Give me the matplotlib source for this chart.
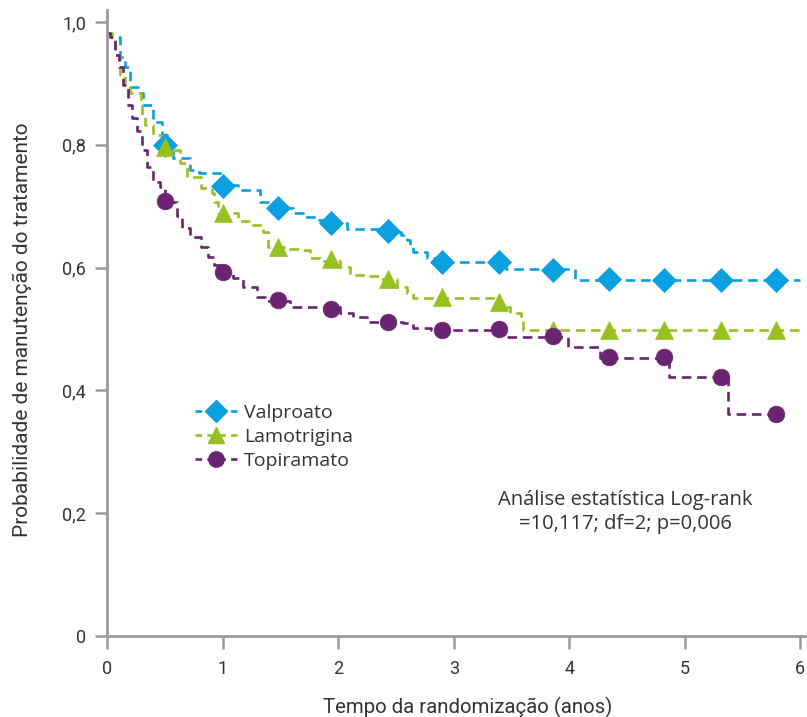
import matplotlib
matplotlib.use("Agg")
import matplotlib.pyplot as plt
from matplotlib.lines import Line2D
from matplotlib.ticker import FuncFormatter

# ---------------- data ----------------
valp_t = [0, 0.035, 0.11, 0.16, 0.20, 0.27, 0.31, 0.40, 0.48, 0.52, 0.57, 0.72, 0.80, 0.98,
          1.13, 1.32, 1.48, 1.61, 1.70, 1.82, 1.93, 2.08, 2.42, 2.54, 2.60, 2.62, 2.65, 2.77,
          2.91, 3.45, 4.05, 6.0]
valp_s = [0.982, 0.976, 0.943, 0.927, 0.894, 0.884, 0.865, 0.837, 0.816, 0.796, 0.778, 0.759, 0.754, 0.735,
          0.726, 0.707, 0.697, 0.689, 0.682, 0.678, 0.673, 0.663, 0.658, 0.653, 0.645, 0.637, 0.625, 0.616,
          0.609, 0.598, 0.580, 0.580]

lamo_t = [0, 0.04, 0.07, 0.11, 0.16, 0.20, 0.29, 0.30, 0.33, 0.40, 0.48, 0.55, 0.63, 0.69, 0.81,
          0.91, 0.93, 0.96, 1.13, 1.24, 1.35, 1.39, 1.56, 1.67, 1.76, 1.84, 2.02, 2.10, 2.28, 2.36,
          2.51, 2.60, 2.65, 3.36, 3.40, 3.49, 3.58, 3.60, 6.0]
lamo_s = [0.982, 0.974, 0.946, 0.914, 0.894, 0.884, 0.870, 0.849, 0.832, 0.816, 0.800, 0.792, 0.770, 0.748, 0.730,
          0.722, 0.707, 0.689, 0.676, 0.669, 0.658, 0.634, 0.631, 0.629, 0.616, 0.611, 0.601, 0.588, 0.586, 0.581,
          0.568, 0.559, 0.550, 0.542, 0.536, 0.526, 0.511, 0.498, 0.498]

topi_t = [0, 0.03, 0.07, 0.10, 0.14, 0.18, 0.22, 0.26, 0.30, 0.35, 0.40, 0.46, 0.50, 0.61, 0.65,
          0.72, 0.81, 0.87, 0.93, 0.98, 1.09, 1.18, 1.30, 1.37, 1.58, 2.02, 2.13, 2.25, 2.56, 2.65,
          2.80, 3.43, 3.99, 4.27, 4.86, 5.37, 5.79]
topi_s = [0.982, 0.976, 0.946, 0.927, 0.897, 0.865, 0.844, 0.822, 0.792, 0.764, 0.739, 0.731, 0.707, 0.684, 0.664,
          0.650, 0.634, 0.617, 0.604, 0.591, 0.583, 0.568, 0.552, 0.546, 0.536, 0.526, 0.520, 0.511, 0.510, 0.502,
          0.498, 0.487, 0.471, 0.453, 0.422, 0.362, 0.362]

mark_t = [0.50, 1.00, 1.48, 1.94, 2.43, 2.90, 3.39, 3.86, 4.34, 4.82, 5.31, 5.79]
valp_m = [0.800, 0.733, 0.697, 0.673, 0.660, 0.609, 0.609, 0.596, 0.581, 0.580, 0.580, 0.580]
lamo_m = [0.797, 0.689, 0.634, 0.614, 0.581, 0.552, 0.544, 0.498, 0.498, 0.498, 0.498, 0.498]
topi_m = [0.708, 0.593, 0.547, 0.533, 0.511, 0.498, 0.500, 0.489, 0.454, 0.454, 0.422, 0.362]

labels = ["Valproato", "Lamotrigina", "Topiramato"]
x_ticks = [0, 1, 2, 3, 4, 5, 6]
y_ticks = [0, 0.2, 0.4, 0.6, 0.8, 1.0]

# ---------------- style ----------------
C_BLUE = "#0A9FDF"
C_GREEN = "#97C11F"
C_PURPLE = "#6A2472"
GRAY = "#9A9A9A"
TXT = "#333333"
FONT = "Roboto"
DASH = (0, (3.6, 2.2))

fig = plt.figure(figsize=(8.07, 7.17), dpi=100)
W, H = 807, 717
ax = fig.add_axes([107 / W, (H - 636) / H, (805 - 107) / W, (636 - 10) / H])

series = [(valp_t, valp_s, valp_m, C_BLUE, "D", 12),
          (lamo_t, lamo_s, lamo_m, C_GREEN, "^", 12.5),
          (topi_t, topi_s, topi_m, C_PURPLE, "o", 12)]

handles = []
for (t, s, m, c, mk, ms), lab in zip(series, labels):
    ax.step(t, s, where="post", color=c, lw=1.9, linestyle=DASH, zorder=2)
    ax.plot(mark_t, m, linestyle="none", marker=mk, markersize=ms, color=c,
            markeredgecolor=c, markeredgewidth=0.5, zorder=3, clip_on=False)
    handles.append(Line2D([], [], color=c, lw=1.9, linestyle=(0, (2.5, 2.0)), marker=mk,
                          markersize=ms * 0.92, markeredgecolor=c))

ax.set_xlim(0, 6.04)
ax.set_ylim(0, 1.0195)
ax.set_xticks(x_ticks)
ax.set_yticks(y_ticks)
ax.xaxis.set_major_formatter(FuncFormatter(lambda v, p: f"{v:g}"))
ax.yaxis.set_major_formatter(FuncFormatter(lambda v, p: "0" if v == 0 else f"{v:.1f}".replace(".", ",")))

for side in ["top", "right"]:
    ax.spines[side].set_visible(False)
for side in ["left", "bottom"]:
    ax.spines[side].set_color(GRAY)
    ax.spines[side].set_linewidth(2)
ax.tick_params(axis="both", direction="out", length=9, width=1.8, color=GRAY,
               labelcolor=TXT, labelsize=13)
ax.tick_params(axis="x", pad=8)
ax.tick_params(axis="y", pad=6)
for lab in ax.get_xticklabels() + ax.get_yticklabels():
    lab.set_fontfamily(FONT)

ax.set_xlabel("Tempo da randomização (anos)", fontsize=14.7, family=FONT, color=TXT)
ax.set_ylabel("Probabilidade de manutenção do tratamento", fontsize=15, family=FONT, color=TXT)
ax.xaxis.set_label_coords(0.516, -0.097)
ax.yaxis.set_label_coords(-0.108, 0.489)

leg = fig.legend(handles=handles, labels=labels, loc="upper left",
                 bbox_to_anchor=(177 / W, (H - 386) / H), frameon=False,
                 prop={"family": "Open Sans", "size": 14}, handlelength=2.2,
                 handletextpad=0.35, labelspacing=0.32)
for t in leg.get_texts():
    t.set_color(TXT)

ax.text(625 / W, (H - 512) / H, "Análise estatística Log-rank\n=10,117; df=2; p=0,006",
        transform=fig.transFigure, ha="center", va="center", fontsize=14.5,
        family="Open Sans", color=TXT, linespacing=1.25)

fig.savefig("out.png", dpi=100)
